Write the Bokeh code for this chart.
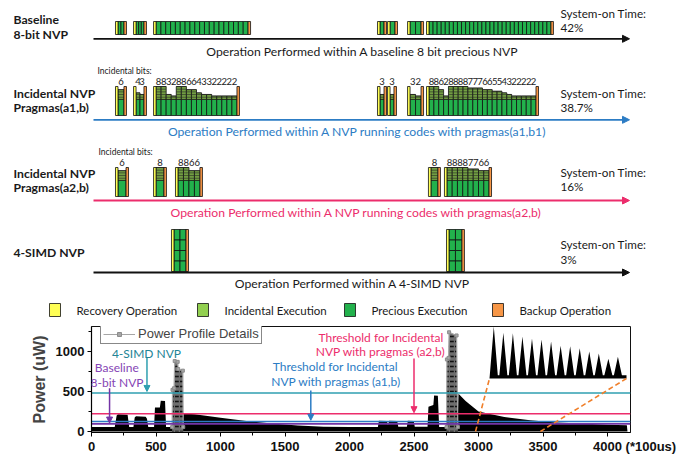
from bokeh.plotting import figure
from bokeh.layouts import column
from bokeh.models import (Range1d, Arrow, NormalHead, Label, Legend, LegendItem,
                          FixedTicker)
from bokeh.core.properties import value
from bokeh.embed import file_html
from bokeh.resources import INLINE

# ---------------------------------------------------------------------------
# Timeline data (time in units of 100 us)
# ---------------------------------------------------------------------------
baseline_start = [186, 326, 481, 2217, 2295, 2450, 2597]
baseline_end = [271, 426, 1233, 2287, 2372, 2574, 3581]
baseline_cells = [2, 3, 19, 1, 1, 2, 30]

a1_start = [186, 326, 481, 2217, 2295, 2450, 2597]
a1_end = [271, 426, 1147, 2287, 2364, 2574, 3465]
a1_bits = [[6], [4, 3], [8, 8, 3, 2, 8, 8, 6, 6, 4, 3, 3, 2, 2, 2, 2, 2],
           [3], [3], [3, 2],
           [8, 8, 6, 2, 8, 8, 8, 8, 7, 7, 7, 6, 6, 5, 5, 4, 3, 2, 2, 2, 2, 2]]

a2_start = [186, 481, 651, 2612, 2736]
a2_end = [287, 581, 860, 2705, 3101]
a2_bits = [[6], [8], [8, 8, 6, 6], [8], [8, 8, 8, 8, 7, 7, 6, 6]]

simd_start = [620, 2752]
simd_end = [752, 2891]

row_names = [["Baseline", "8-bit NVP"], ["Incidental NVP", "Pragmas(a1,b)"],
             ["Incidental NVP", "Pragmas(a2,b)"], ["4-SIMD NVP"]]
on_time = ["42%", "38.7%", "16%", "3%"]
captions = ["Operation Performed within A baseline 8 bit precious NVP",
            "Operation Performed within A NVP running codes with pragmas(a1,b1)",
            "Operation Performed within A NVP running codes with pragmas(a2,b)",
            "Operation Performed within A 4-SIMD NVP"]
legend_labels = ["Recovery Operation", "Incidental Execution",
                 "Precious Execution", "Backup Operation"]

# ---------------------------------------------------------------------------
# Power profile data (time in 100 us, power in uW)
# ---------------------------------------------------------------------------
power_t = [0, 180, 195, 205, 280, 292, 325, 335, 345, 420, 430, 440, 485, 492,
           530, 537, 570, 578, 705, 712, 800, 1000, 1200, 1400, 1600, 1800,
           2000, 2220, 2228, 2290, 2298, 2308, 2370, 2378, 2445, 2452, 2498,
           2506, 2605, 2612, 2650, 2656, 2685, 2695, 2838, 2845, 2900, 3000,
           3200, 3400, 3600, 3800, 4000, 4150, 4155]
power_uw = [55, 55, 200, 215, 210, 55, 55, 175, 190, 185, 160, 55, 55, 300,
            300, 385, 380, 55, 55, 225, 215, 170, 130, 100, 75, 60,
            55, 55, 135, 130, 80, 135, 130, 60, 60, 135, 130,
            60, 60, 310, 330, 450, 445, 55, 55, 470, 380, 250,
            180, 140, 112, 100, 85, 78, 0]

detail1_t = [625, 628, 640, 645, 668, 672, 708, 711]
detail1_uw = [55, 520, 540, 880, 870, 780, 760, 55]
detail2_t = [2752, 2755, 2768, 2772, 2830, 2840]
detail2_uw = [55, 900, 920, 1240, 1200, 55]

# zoomed detail: relative amplitude of successive spikes
inset_amp = [100, 88, 87, 81, 77, 75, 71, 63, 62, 58, 52, 48, 38, 42]

thresholds = {"simd": 480, "a2": 222, "a1": 125, "base": 95}

x_ticks = list(range(0, 4001, 500))
x_tick_text = [str(t) for t in x_ticks]
x_tick_text[-1] = "\u00a0" * 15 + "4000 (*100us)"

# ---------------------------------------------------------------------------
YELLOW = "#ffff55"
LGREEN = "#92d050"
GREEN = "#22b14c"
ORANGE = "#f79646"
TEAL, TEAL_TXT = "#2f9fb0", "#238496"
PINK = "#ec2d6c"
BLUE = "#2c7cc4"
PURPLE, PURPLE_TXT = "#7434a6", "#8545b5"
FONT = "Lato"

K = 0.129          # screen pixels per time unit (shared by both panels)
LEFT_PX = 91       # screen x of t = 0


def tx(px):
    """time coordinate of a screen column (for placing annotation text)"""
    return (px - LEFT_PX) / K


STRIP = 2.5 / K    # width of recovery / backup strips

# ---------------------------------------------------------------------------
# Top panel: execution timelines
# ---------------------------------------------------------------------------
top = figure(width=694, height=318, x_range=Range1d(tx(0), tx(694)),
             y_range=Range1d(318, 0), output_backend="svg",
             toolbar_location=None, min_border=0, frame_align=False)
top.axis.visible = False
top.grid.visible = False
top.outline_line_color = None
top.background_fill_color = "white"


def txt(fig, x, y, s, size="11.5px", color="#1a1a1a", style="normal",
        align="left", font=FONT):
    fig.text(x=[x], y=[y], text=[s], text_font=value(font),
             text_font_size=size, text_color=color, text_font_style=style,
             text_align=align, text_baseline="middle")


def boxes(fig, l, r, t, b, color, lw=0.8):
    fig.quad(left=l, right=r, top=t, bottom=b, fill_color=color,
             line_color="#111111", line_width=lw)


def strips(fig, starts, ends, ytop, ybot):
    boxes(fig, starts, [s + STRIP for s in starts], ytop, ybot, YELLOW)
    boxes(fig, [e - STRIP for e in ends], ends, ytop, ybot, ORANGE)


# row 1: baseline 8-bit NVP
R1T, R1B = 21, 34
cl, cr = [], []
for s, e, n in zip(baseline_start, baseline_end, baseline_cells):
    w = (e - s - 2 * STRIP) / n
    for i in range(n):
        cl.append(s + STRIP + i * w)
        cr.append(s + STRIP + (i + 1) * w)
boxes(top, cl, cr, R1T, R1B, GREEN)
strips(top, baseline_start, baseline_end, R1T, R1B)


# rows 2 and 3: incidental pragmas
def pragma_row(fig, starts, ends, bits, ytop, ybot, ydig):
    ymid = ybot - (ybot - ytop) * 0.56
    per_bit = (ymid - ytop) / 8
    pl, pr, il, ir, it = [], [], [], [], []
    hx0, hx1, hy = [], [], []
    dx, dt = [], []
    for s, e, bl in zip(starts, ends, bits):
        w = (e - s - 2 * STRIP) / len(bl)
        for i, b in enumerate(bl):
            x0 = s + STRIP + i * w
            x1 = x0 + w
            pl.append(x0); pr.append(x1)
            il.append(x0); ir.append(x1); it.append(ymid - b * per_bit)
            for j in range(1, b + 1):
                hx0.append(x0); hx1.append(x1); hy.append(ymid - j * per_bit)
            dx.append((x0 + x1) / 2); dt.append(str(b))
    boxes(fig, pl, pr, ymid, ybot, GREEN)
    fig.quad(left=il, right=ir, top=it, bottom=ymid, fill_color=LGREEN,
             line_color="#111111", line_width=0.8)
    fig.segment(x0=hx0, x1=hx1, y0=hy, y1=hy, line_color="#222222",
                line_width=0.7)
    strips(fig, starts, ends, ytop, ybot)
    fig.text(x=dx, y=[ydig] * len(dx), text=dt, text_font=value(FONT),
             text_font_size="9.5px", text_color="#1a1a1a", text_align="center",
             text_baseline="middle")


pragma_row(top, a1_start, a1_end, a1_bits, 86, 115, 80.5)
pragma_row(top, a2_start, a2_end, a2_bits, 167, 196, 161.5)
txt(top, tx(97), 70, "Incidental bits:", size="8.5px")
txt(top, tx(98), 151, "Incidental bits:", size="8.5px")

# row 4: 4-SIMD NVP, four lanes of two steps each
R4T, R4B = 229, 271
sl, sr, st, sb = [], [], [], []
for s, e in zip(simd_start, simd_end):
    w = (e - s - 2 * STRIP) / 2
    h = (R4B - R4T) / 4
    for c in range(2):
        for r in range(4):
            sl.append(s + STRIP + c * w); sr.append(s + STRIP + (c + 1) * w)
            st.append(R4T + r * h); sb.append(R4T + (r + 1) * h)
boxes(top, sl, sr, st, sb, GREEN)
strips(top, simd_start, simd_end, R4T, R4B)

# time axes with arrow heads
axis_y = [38.3, 119.3, 200, 272]
axis_c = ["#111111", BLUE, PINK, "#111111"]
for y, c in zip(axis_y, axis_c):
    top.add_layout(Arrow(end=NormalHead(size=7, fill_color=c, line_color=c),
                         x_start=tx(93), y_start=y, x_end=tx(629), y_end=y,
                         line_color=c, line_width=1.8))

cap_y = [50.7, 131, 211.7, 283]
cap_x = [362, 357, 356, 352]
cap_c = ["#1a1a1a", BLUE, PINK, "#1a1a1a"]
for s, x, y, c in zip(captions, cap_x, cap_y, cap_c):
    txt(top, tx(x), y, s, size="12.2px", color=c, align="center")

name_y = [[19, 34], [93, 107], [173, 187], [252]]
for names, ys in zip(row_names, name_y):
    for n, y in zip(names, ys):
        txt(top, tx(13), y, n, size="12.2px", style="bold")

on_y = [[12, 26], [92, 106], [171, 185], [243, 258]]
for pct, ys in zip(on_time, on_y):
    txt(top, tx(560), ys[0], "System-on Time:", size="11.7px")
    txt(top, tx(560), ys[1], pct, size="11.7px")

# colour key
key_x = [49, 197, 344, 492]
key_c = [YELLOW, LGREEN, GREEN, ORANGE]
boxes(top, [tx(x) for x in key_x], [tx(x + 11) for x in key_x], 303, 316,
      key_c)
for x, lab in zip(key_x, legend_labels):
    txt(top, tx(x + 27), 309.5, lab)

# ---------------------------------------------------------------------------
# Bottom panel: power profile
# ---------------------------------------------------------------------------
p = figure(width=694, height=138, x_range=Range1d(0, 539 / K),
           y_range=Range1d(-13, 1312), output_backend="svg",
           toolbar_location=None, min_border_left=91, min_border_right=64,
           min_border_top=8, min_border_bottom=24, frame_align=False)
p.grid.visible = False
p.outline_line_color = "#111111"
p.outline_line_width = 1

p.varea(x=power_t, y1=[0] * len(power_t), y2=power_uw, fill_color="black")
detail_renderers = []
for dt_, du in [(detail1_t, detail1_uw), (detail2_t, detail2_uw)]:
    p.varea(x=dt_, y1=[0] * len(dt_), y2=du, fill_color="#6e6e6e",
            hatch_pattern="horizontal_dash", hatch_color="#111111",
            hatch_scale=5, hatch_weight=1.6)
    ln = p.line(dt_, du, line_color="#a6a6a6", line_width=1.2)
    mk = p.scatter(dt_, du, marker="square", size=3, fill_color="#a6a6a6",
                   line_color="#8c8c8c")
    detail_renderers += [ln, mk]

# thresholds
for key, c in [("simd", TEAL), ("a2", PINK), ("a1", BLUE), ("base", PURPLE)]:
    p.line(x=[0, 539 / K], y=[thresholds[key]] * 2, line_color=c,
           line_width=1.6)

# inset: zoomed view of the decaying spikes
INS_T0, INS_T1 = tx(489), tx(626)
INS_B, INS_TOP = 662, 1312
n = len(inset_amp)
step = (INS_T1 - INS_T0) / (n + 0.35)
ix, iy = [INS_T0], [INS_B]
for i, a in enumerate(inset_amp):
    c = INS_T0 + (i + 0.45) * step
    ix += [c - step * 0.42, c, c + step * 0.42]
    iy += [INS_B + 40, INS_B + (INS_TOP - INS_B) * a / 100, INS_B + 40]
ix += [INS_T1, INS_T1]
iy += [INS_B + 40, INS_B]
p.varea(x=ix, y1=[INS_B] * len(ix), y2=iy, fill_color="black")
p.line(x=[2977, INS_T0], y=[0, INS_B], line_color="#f07f2a", line_width=1.6,
       line_dash="5 3")
p.line(x=[3480, INS_T1], y=[0, INS_B], line_color="#f07f2a", line_width=1.6,
       line_dash="5 3")

# arrows and notes
arrows = [(430, 930, 500, TEAL), (140, 540, 105, PURPLE),
          (1700, 512, 140, BLUE), (2500, 912, 235, PINK)]
for x, y0, y1, c in arrows:
    p.add_layout(Arrow(end=NormalHead(size=6, fill_color=c, line_color=c),
                       x_start=x, y_start=y0, x_end=x, y_end=y1,
                       line_color=c, line_width=1.5))

notes = [(426, 975, "4-SIMD NVP", TEAL_TXT),
         (196, 800, "Baseline", PURPLE_TXT), (198, 612, "8-bit NVP", PURPLE_TXT),
         (1890, 812, "Threshold for Incidental", BLUE),
         (1895, 625, "NVP with pragmas (a1,b)", BLUE),
         (2244, 1179, "Threshold for Incidental", PINK),
         (2240, 1000, "NVP with pragmas (a2,b)", PINK)]
for x, y, s, c in notes:
    p.add_layout(Label(x=x, y=y, text=s, text_color=c, text_font=FONT,
                       text_font_size="12px", text_align="center",
                       text_baseline="middle"))

# legend entry for the detailed profile trace
leg = Legend(items=[LegendItem(label="Power Profile Details",
                               renderers=detail_renderers[:2])],
             location=(9, 88), border_line_color="#111111",
             border_line_width=1.2, background_fill_alpha=1,
             label_text_font="Liberation Sans", label_text_font_size="13px",
             glyph_width=32, glyph_height=10, label_standoff=3, padding=2,
             spacing=0, margin=0, label_height=12)
p.add_layout(leg)

# axes
p.xaxis.ticker = FixedTicker(ticks=x_ticks,
                             minor_ticks=list(range(250, 4200, 500)))
p.xaxis.major_label_overrides = dict(zip(x_ticks, x_tick_text))
p.yaxis.ticker = FixedTicker(ticks=[0, 500, 1000], minor_ticks=[250, 750, 1250])
for ax in (p.xaxis, p.yaxis):
    ax.major_tick_in = 0
    ax.major_tick_out = 4
    ax.minor_tick_in = 0
    ax.minor_tick_out = 3
    ax.axis_line_width = 1.2
    ax.major_label_text_font = "Liberation Sans"
    ax.major_label_text_font_style = "bold"
    ax.major_label_text_font_size = "13px"
    ax.major_label_text_color = "#111111"
p.xaxis.major_label_standoff = 2
p.yaxis.major_label_standoff = 3
p.yaxis.axis_label = "Power (uW)"
p.yaxis.axis_label_text_font = "Liberation Sans"
p.yaxis.axis_label_text_font_style = "bold"
p.yaxis.axis_label_text_font_size = "16px"
p.yaxis.axis_label_standoff = 5

layout = column(top, p, spacing=0)
open("out.html", "w").write(file_html(layout, INLINE))
